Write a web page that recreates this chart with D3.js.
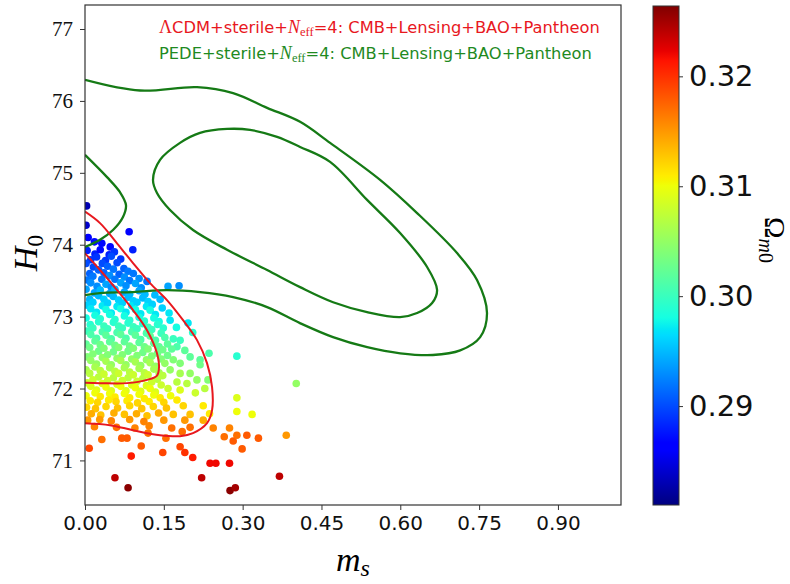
<!DOCTYPE html>
<html>
<head>
<meta charset="utf-8">
<script src="https://cdn.jsdelivr.net/npm/d3@7"></script>
<style>
  body { margin: 0; background: #fff; }
  .xt text { font-family: "DejaVu Sans"; font-size: 20px; fill: #111; }
  .yt text { font-family: "Liberation Serif"; font-size: 21px; fill: #111; }
  .ct text { font-family: "DejaVu Sans"; font-size: 29px; fill: #111; }
  .domain { display: none; }
  .tick line { stroke: #333; }
</style>
</head>
<body>
<div id="chart"></div>
<script>
const w = 790;
const h = 584;
const plotL = 85, plotR = 621, plotT = 5, plotB = 505;

// axis settings
const xTicks = [0, 0.15, 0.30, 0.45, 0.60, 0.75, 0.90];
const yTicks = [71, 72, 73, 74, 75, 76, 77];
const omTicks = [0.29, 0.30, 0.31, 0.32];
const xDomain = [0, 1.02];
const yDomain = [70.38, 77.334];
const omDomain = [0.281, 0.3264];

// jet colour map knots
const jetT = [0, 0.11, 0.125, 0.34, 0.35, 0.375, 0.64, 0.65, 0.66, 0.89, 0.91, 1];
const jetC = ["#000080", "#0000ff", "#0000ff", "#00dbff", "#00e5f7", "#15ffe2",
              "#efff08", "#f7f500", "#ffec00", "#ff1300", "#e80000", "#800000"];

// contours [m_s, H0]
const lcdmOuter = [[0,74.46],[0.0286,74.30],[0.0609,74.02],[0.0914,73.745],[0.1237,73.466],[0.156,73.23],
  [0.1866,72.95],[0.2132,72.673],[0.2322,72.353],[0.2418,72.019],[0.2418,71.699],[0.2322,71.518],
  [0.2056,71.379],[0.1808,71.337],[0.1428,71.35],[0.0914,71.42],[0.0476,71.49],[0,71.517]];
const lcdmInner = [[0,73.88],[0.0286,73.648],[0.0609,73.37],[0.0914,73.09],[0.118,72.81],[0.137,72.49],
  [0.1409,72.30],[0.137,72.18],[0.118,72.12],[0.08,72.075],[0.0286,72.075],[0,72.08]];
const pedeOuter = [[0,76.294],[0.1047,76.145],[0.2132,76.192],[0.2818,76.109],[0.3465,75.904],[0.4093,75.709],
  [0.4664,75.416],[0.5616,74.902],[0.632,74.44],[0.708,73.884],[0.746,73.508],[0.765,73.049],[0.752,72.715],
  [0.714,72.53],[0.662,72.466],[0.60,72.49],[0.537,72.575],[0.472,72.715],[0.409,72.91],[0.3465,73.133],
  [0.2818,73.272],[0.219,73.342],[0.156,73.369],[0.0914,73.342],[0.0286,73.328],[0,73.30]];
const pedeInnerLeft = [[0,75.25],[0.0419,74.94],[0.0666,74.73],[0.078,74.55],[0.0723,74.386],[0.0533,74.205],
  [0.0286,74.07],[0,73.97]];
const pedeInnerLoop = [[0.1294,74.902],[0.1428,75.18],[0.1808,75.417],[0.2189,75.556],[0.2703,75.61],
  [0.3141,75.597],[0.3655,75.50],[0.4093,75.36],[0.4664,75.152],[0.5368,74.623],[0.5996,74.163],[0.651,73.69],
  [0.670,73.37],[0.6606,73.19],[0.632,73.05],[0.5996,72.993],[0.5368,73.063],[0.4721,73.20],[0.4093,73.41],
  [0.3465,73.648],[0.2703,73.93],[0.2056,74.205],[0.1618,74.483],[0.137,74.72]];

// samples [m_s, H0, Omega_m0]
const samples = [
  [0.003,74.54,.283],[0.002,74.27,.284],[0.006,74.10,.286],[0.084,74.18,.286],[0.091,73.93,.288],[0.032,74.02,.287],[0.048,73.97,.287],[0.018,74.04,.287],
  [0.004,73.92,.288],[0.019,73.87,.288],[0.029,73.93,.287],[0.046,73.86,.288],[0.056,73.9,.289],
  [0.011,73.79,.289],[0.022,73.83,.289],[0.039,73.78,.289],[0.05,73.84,.29],[0.068,73.8,.289],
  [0.002,73.74,.29],[0.016,73.69,.29],[0.033,73.74,.29],[0.043,73.7,.291],[0.061,73.75,.29],[0.074,73.67,.291],
  [0.009,73.6,.291],[0.026,73.65,.291],[0.036,73.61,.291],[0.054,73.66,.292],[0.065,73.59,.291],[0.082,73.63,.292],[0.092,73.6,.292],
  [0.004,73.51,.292],[0.015,73.56,.292],[0.032,73.52,.292],[0.047,73.57,.293],[0.057,73.52,.292],[0.075,73.55,.293],[0.085,73.5,.292],[0.103,73.53,.293],[0.118,73.49,.292],
  [0.011,73.47,.293],[0.023,73.42,.293],[0.04,73.45,.294],[0.05,73.41,.293],[0.068,73.47,.294],[0.078,73.43,.293],[0.096,73.46,.294],[0.107,73.4,.293],[0.158,73.42,.294],[0.179,73.43,.293],
  [0.002,73.38,.294],[0.018,73.33,.294],[0.029,73.37,.295],[0.047,73.32,.294],[0.057,73.38,.295],[0.075,73.34,.294],[0.085,73.31,.295],[0.103,73.36,.294],[0.114,73.31,.295],[0.133,73.3,.295],
  [0.009,73.24,.295],[0.026,73.29,.295],[0.036,73.24,.296],[0.054,73.28,.295],[0.064,73.23,.296],[0.082,73.27,.295],[0.092,73.22,.296],[0.11,73.26,.295],[0.12,73.21,.296],[0.143,73.24,.295],
  [0.004,73.16,.296],[0.015,73.2,.296],[0.033,73.15,.297],[0.043,73.19,.296],[0.061,73.14,.297],[0.071,73.19,.296],[0.089,73.15,.297],[0.099,73.2,.296],[0.117,73.14,.297],[0.128,73.17,.296],[0.147,73.12,.296],
  [0.011,73.11,.297],[0.022,73.06,.297],[0.04,73.1,.298],[0.05,73.05,.297],[0.068,73.11,.298],[0.078,73.06,.297],[0.096,73.1,.298],[0.106,73.04,.297],[0.124,73.09,.298],[0.134,73.03,.297],[0.16,73.05,.297],
  [0.002,72.98,.298],[0.019,73.02,.298],[0.029,72.97,.299],[0.047,73.03,.298],[0.057,72.96,.299],[0.075,73.01,.298],[0.085,72.95,.299],[0.103,72.99,.298],[0.113,72.94,.299],[0.131,72.98,.298],[0.141,72.93,.298],[0.162,72.95,.297],[0.196,72.91,.297],
  [0.01,72.89,.299],[0.026,72.93,.299],[0.036,72.87,.3],[0.054,72.92,.299],[0.064,72.87,.3],[0.082,72.91,.299],[0.092,72.86,.3],[0.11,72.9,.299],[0.12,72.85,.3],[0.138,72.89,.299],[0.149,72.84,.299],[0.174,72.85,.298],
  [0.004,72.8,.3],[0.015,72.84,.3],[0.033,72.79,.301],[0.043,72.83,.3],[0.061,72.78,.301],[0.071,72.84,.3],[0.089,72.79,.301],[0.099,72.83,.3],[0.117,72.77,.301],[0.127,72.82,.3],[0.145,72.77,.3],[0.205,72.78,.299],
  [0.011,72.75,.301],[0.022,72.7,.301],[0.04,72.74,.302],[0.05,72.69,.301],[0.068,72.75,.302],[0.078,72.7,.301],[0.096,72.74,.302],[0.106,72.68,.301],[0.124,72.73,.302],[0.134,72.67,.301],[0.152,72.71,.301],[0.168,72.69,.3],[0.181,72.67,.3],
  [0.002,72.62,.302],[0.019,72.66,.302],[0.029,72.61,.303],[0.047,72.65,.302],[0.057,72.6,.303],[0.075,72.65,.302],[0.085,72.59,.303],[0.103,72.64,.302],[0.113,72.58,.303],[0.131,72.63,.302],[0.141,72.58,.302],[0.157,72.62,.302],[0.175,72.58,.301],
  [0.009,72.57,.303],[0.026,72.52,.303],[0.036,72.56,.304],[0.054,72.51,.303],[0.064,72.57,.304],[0.082,72.52,.303],[0.092,72.56,.304],[0.11,72.5,.303],[0.12,72.55,.304],[0.138,72.49,.303],[0.148,72.54,.303],[0.165,72.55,.302],[0.19,72.53,.302],
  [0.004,72.44,.304],[0.015,72.48,.304],[0.033,72.43,.305],[0.043,72.47,.304],[0.061,72.42,.305],[0.071,72.47,.304],[0.089,72.41,.305],[0.099,72.46,.304],[0.117,72.4,.305],[0.127,72.45,.304],[0.145,72.41,.304],[0.157,72.46,.303],[0.2,72.44,.302],[0.236,72.49,.301],[0.289,72.45,.299],[0.219,72.4,.302],
  [0.011,72.39,.305],[0.022,72.34,.305],[0.04,72.38,.306],[0.05,72.33,.305],[0.068,72.39,.306],[0.078,72.33,.305],[0.096,72.37,.306],[0.106,72.32,.305],[0.124,72.36,.306],[0.134,72.31,.305],[0.152,72.35,.305],[0.168,72.4,.304],[0.181,72.35,.304],
  [0.002,72.26,.306],[0.019,72.3,.306],[0.029,72.25,.307],[0.047,72.29,.306],[0.057,72.24,.307],[0.075,72.29,.306],[0.085,72.23,.307],[0.103,72.28,.306],[0.113,72.22,.307],[0.131,72.27,.306],[0.141,72.22,.306],[0.162,72.26,.305],[0.219,72.33,.303],
  [0.009,72.21,.307],[0.026,72.16,.307],[0.036,72.2,.308],[0.054,72.15,.307],[0.064,72.21,.308],[0.082,72.15,.307],[0.092,72.19,.308],[0.11,72.14,.307],[0.12,72.19,.308],[0.138,72.13,.307],[0.148,72.18,.307],[0.181,72.21,.306],[0.2,72.21,.305],[0.213,72.12,.305],[0.234,72.12,.304],
  [0.004,72.08,.308],[0.015,72.12,.308],[0.033,72.07,.309],[0.043,72.11,.308],[0.061,72.06,.309],[0.071,72.11,.308],[0.089,72.05,.309],[0.099,72.1,.308],[0.117,72.04,.309],[0.127,72.09,.308],[0.145,72.05,.308],[0.158,72.0,.308],[0.175,72.09,.307],[0.194,72.07,.307],[0.402,72.07,.305],
  [0.011,72.03,.309],[0.022,71.98,.309],[0.04,72.02,.31],[0.05,71.97,.309],[0.068,72.03,.31],[0.078,71.97,.309],[0.096,72.01,.31],[0.106,71.96,.309],[0.124,72.0,.31],[0.134,71.95,.309],[0.181,71.98,.309],[0.21,71.94,.308],[0.228,72.0,.307],
  [0.002,71.9,.31],[0.019,71.94,.31],[0.029,71.89,.311],[0.047,71.93,.31],[0.057,71.88,.311],[0.075,71.93,.31],[0.085,71.87,.311],[0.103,71.92,.31],[0.113,71.86,.311],[0.131,71.91,.31],[0.143,71.87,.311],[0.163,71.9,.31],[0.289,71.87,.309],
  [0.01,71.83,.311],[0.024,71.81,.312],[0.045,71.84,.311],[0.059,71.82,.312],[0.08,71.83,.311],[0.1,71.8,.312],[0.122,71.82,.311],[0.15,71.81,.312],[0.175,71.84,.311],
  [0.003,71.74,.312],[0.02,71.72,.313],[0.04,71.75,.312],[0.062,71.73,.313],[0.085,71.76,.312],[0.108,71.72,.313],[0.13,71.75,.312],[0.155,71.73,.313],[0.187,71.76,.312],[0.225,71.76,.311],[0.289,71.68,.31],[0.318,71.64,.31],
  [0.012,71.65,.314],[0.03,71.63,.313],[0.055,71.66,.314],[0.075,71.64,.313],[0.098,71.65,.314],[0.118,71.62,.313],[0.14,71.66,.314],[0.168,71.64,.313],[0.2,71.64,.313],[0.237,71.65,.311],
  [0.005,71.56,.315],[0.028,71.57,.315],[0.05,71.55,.316],[0.085,71.57,.315],[0.112,71.54,.316],[0.15,71.56,.315],[0.19,71.56,.315],[0.225,71.56,.314],
  [0.018,71.47,.316],[0.06,71.46,.317],[0.095,71.45,.316],[0.122,71.48,.316],[0.165,71.45,.317],[0.2,71.46,.317],[0.244,71.45,.316],[0.275,71.45,.316],
  [0.265,71.33,.317],[0.282,71.27,.318],[0.289,71.35,.317],[0.308,71.35,.318],[0.33,71.31,.318],[0.383,71.35,.315],[0.12,71.38,.317],[0.185,71.4,.317],
  [0.299,71.16,.318],[0.181,71.19,.319],[0.19,71.11,.32],[0.205,71.04,.321],[0.148,71.11,.319],[0.107,71.2,.318],[0.088,71.06,.321],[0.154,71.31,.317],
  [0.08,71.31,.318],[0.07,71.31,.318],[0.032,71.29,.317],[0.008,71.17,.319],[0.238,70.96,.322],[0.249,70.96,.322],[0.275,70.96,.322],
  [0.057,70.76,.324],[0.222,70.76,.324],[0.37,70.78,.324],[0.082,70.62,.326],[0.276,70.58,.326],[0.286,70.62,.325]
];

const x = d3.scaleLinear().domain(xDomain).range([plotL, plotR]);
const y = d3.scaleLinear().domain(yDomain).range([plotB, plotT]);
const omSpan = omDomain[1] - omDomain[0];
const color = d3.scaleLinear()
  .domain(jetT.map(t => omDomain[0] + t * omSpan))
  .range(jetC)
  .clamp(true);

const svg = d3.select("#chart").append("svg")
  .attr("width", w).attr("height", h);

svg.append("defs").append("clipPath").attr("id", "clip")
  .append("rect")
  .attr("x", plotL).attr("y", plotT)
  .attr("width", plotR - plotL).attr("height", plotB - plotT);

const plot = svg.append("g").attr("clip-path", "url(#clip)");

plot.selectAll("circle").data(samples).join("circle")
  .attr("cx", d => x(d[0]))
  .attr("cy", d => y(d[1]))
  .attr("r", 3.8)
  .attr("fill", d => color(d[2]));

const line = d3.line().x(d => x(d[0])).y(d => y(d[1])).curve(d3.curveCatmullRom);
const loop = d3.line().x(d => x(d[0])).y(d => y(d[1])).curve(d3.curveCatmullRomClosed);

[[pedeOuter, line], [pedeInnerLeft, line], [pedeInnerLoop, loop]].forEach(function(c) {
  plot.append("path").attr("d", c[1](c[0]))
    .attr("fill", "none").attr("stroke", "#157a15").attr("stroke-width", 2.3);
});
[lcdmOuter, lcdmInner].forEach(function(c) {
  plot.append("path").attr("d", line(c))
    .attr("fill", "none").attr("stroke", "#e8181e").attr("stroke-width", 2);
});

// frame
svg.append("rect")
  .attr("x", plotL).attr("y", plotT)
  .attr("width", plotR - plotL).attr("height", plotB - plotT)
  .attr("fill", "none").attr("stroke", "#333").attr("stroke-width", 1.2);

svg.append("g").attr("class", "xt")
  .attr("transform", "translate(0," + plotB + ")")
  .call(d3.axisBottom(x).tickValues(xTicks).tickFormat(d3.format(".2f")).tickSize(5).tickPadding(6));

svg.append("g").attr("class", "yt")
  .attr("transform", "translate(" + plotL + ",0)")
  .call(d3.axisLeft(y).tickValues(yTicks).tickFormat(d3.format("d")).tickSize(5).tickPadding(7));

// legend text
function legendLine(yPos, fill, head) {
  const t = svg.append("text").attr("x", 159).attr("y", yPos)
    .attr("fill", fill).style("font-family", "DejaVu Sans").style("font-size", "16.3px");
  head(t);
  t.append("tspan").style("font-family", "Liberation Serif").style("font-style", "italic").style("font-size", "18px").text("N");
  t.append("tspan").attr("dy", 3).style("font-family", "Liberation Serif").style("font-size", "12.5px").text("eff");
  t.append("tspan").attr("dy", -3).text("=4: CMB+Lensing+BAO+Pantheon");
}
legendLine(33, "#e8181e", function(t) {
  t.append("tspan").style("font-family", "Liberation Serif").style("font-size", "18px").text("\u039b");
  t.append("tspan").text("CDM+sterile+");
});
legendLine(59, "#1f8a1f", function(t) {
  t.append("tspan").text("PEDE+sterile+");
});

// axis labels
const yl = svg.append("text")
  .attr("transform", "translate(37,253) rotate(-90)")
  .attr("text-anchor", "middle")
  .style("font-family", "Liberation Serif").style("font-size", "34px");
yl.append("tspan").style("font-style", "italic").text("H");
yl.append("tspan").attr("dy", 6).style("font-size", "24px").text("0");

const xl = svg.append("text")
  .attr("x", 353).attr("y", 571)
  .attr("text-anchor", "middle")
  .style("font-family", "Liberation Serif").style("font-size", "34px").style("font-style", "italic");
xl.append("tspan").text("m");
xl.append("tspan").attr("dy", 5).style("font-size", "24px").text("s");

// colour bar
const cbL = 653, cbW = 26;
const cy = d3.scaleLinear().domain(omDomain).range([plotB, plotT + 1]);
const grad = svg.select("defs").append("linearGradient")
  .attr("id", "jet").attr("x1", 0).attr("y1", 1).attr("x2", 0).attr("y2", 0);
grad.selectAll("stop").data(jetT).join("stop")
  .attr("offset", d => d)
  .attr("stop-color", (d, i) => jetC[i]);
svg.append("rect")
  .attr("x", cbL).attr("y", cy(omDomain[1]))
  .attr("width", cbW).attr("height", cy(omDomain[0]) - cy(omDomain[1]))
  .attr("fill", "url(#jet)").attr("stroke", "#333").attr("stroke-width", 1);
svg.append("g").attr("class", "ct")
  .attr("transform", "translate(" + (cbL + cbW) + ",0)")
  .call(d3.axisRight(cy).tickValues(omTicks).tickFormat(d3.format(".2f")).tickSize(4).tickPadding(6));

const cl = svg.append("text")
  .attr("transform", "translate(765,240) rotate(90)")
  .attr("text-anchor", "middle")
  .style("font-family", "Liberation Serif").style("font-size", "29px");
cl.append("tspan").text("\u03a9");
cl.append("tspan").attr("dy", 6).style("font-size", "20px").style("font-style", "italic").text("m");
cl.append("tspan").style("font-size", "20px").text("0");
</script>
</body>
</html>
